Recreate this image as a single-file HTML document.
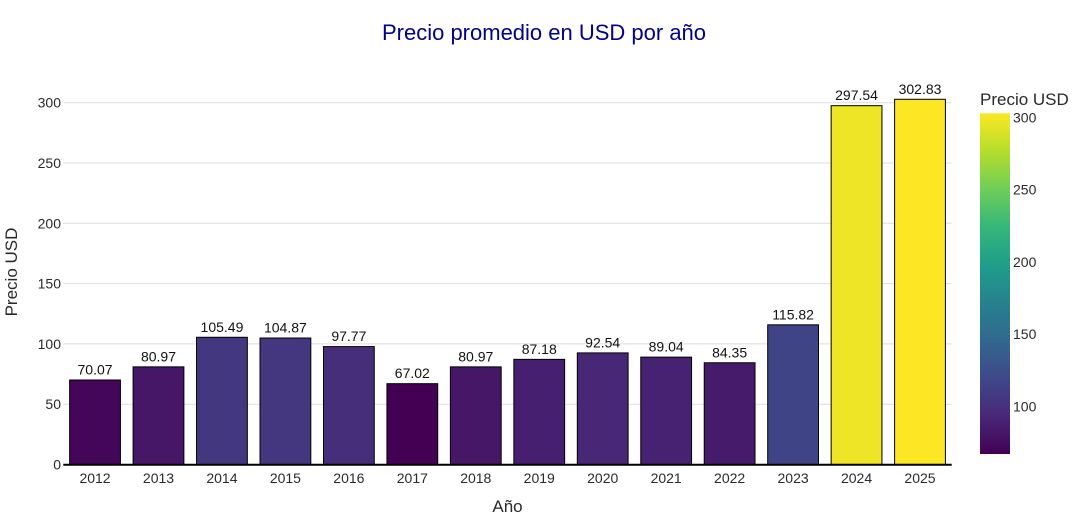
<!DOCTYPE html>
<html>
<head>
<meta charset="utf-8">
<style>
  html, body { margin:0; padding:0; background:#fff; }
  svg { display:block; font-family: "Liberation Sans", Arial, sans-serif; }
</style>
</head>
<body>
<svg width="1090" height="525" viewBox="0 0 1090 525" xmlns="http://www.w3.org/2000/svg">
  <defs>
    <linearGradient id="vir" x1="0" y1="1" x2="0" y2="0">
      <stop offset="0" stop-color="#440154"/>
      <stop offset="0.1111" stop-color="#482878"/>
      <stop offset="0.2222" stop-color="#3e4989"/>
      <stop offset="0.3333" stop-color="#31688e"/>
      <stop offset="0.4444" stop-color="#26828e"/>
      <stop offset="0.5556" stop-color="#1f9e89"/>
      <stop offset="0.6667" stop-color="#35b779"/>
      <stop offset="0.7778" stop-color="#6ece58"/>
      <stop offset="0.8889" stop-color="#b5de2b"/>
      <stop offset="1" stop-color="#fde725"/>
    </linearGradient>
  </defs>
  <rect width="1090" height="525" fill="#fff"/>

  <!-- title -->
  <text x="544" y="40" font-size="22" fill="#00008b" text-anchor="middle">Precio promedio en USD por año</text>

  <!-- gridlines -->
  <g stroke="#dedede" stroke-width="1">
    <line x1="63.3" x2="951.7" y1="404.2" y2="404.2"/>
    <line x1="63.3" x2="951.7" y1="343.9" y2="343.9"/>
    <line x1="63.3" x2="951.7" y1="283.6" y2="283.6"/>
    <line x1="63.3" x2="951.7" y1="223.3" y2="223.3"/>
    <line x1="63.3" x2="951.7" y1="163.0" y2="163.0"/>
    <line x1="63.3" x2="951.7" y1="102.7" y2="102.7"/>
  </g>

  <!-- y tick labels -->
  <g font-size="14" fill="#2a2a2a" text-anchor="end">
    <text x="61" y="469.5">0</text>
    <text x="61" y="409.2">50</text>
    <text x="61" y="348.9">100</text>
    <text x="61" y="288.6">150</text>
    <text x="61" y="228.3">200</text>
    <text x="61" y="168.0">250</text>
    <text x="61" y="107.7">300</text>
  </g>

  <!-- bars -->
  <g stroke="#000" stroke-width="1">
    <rect x="69.63"  y="380.00" width="50.8" height="84.50"  fill="rgb(68,6,88)"/>
    <rect x="133.09" y="366.85" width="50.8" height="97.65"  fill="rgb(70,22,103)"/>
    <rect x="196.55" y="337.28" width="50.8" height="127.22" fill="rgb(67,55,128)"/>
    <rect x="260.01" y="338.03" width="50.8" height="126.47" fill="rgb(68,55,128)"/>
    <rect x="323.47" y="346.59" width="50.8" height="117.91" fill="rgb(70,46,123)"/>
    <rect x="386.93" y="383.67" width="50.8" height="80.83"  fill="rgb(68,1,84)"/>
    <rect x="450.39" y="366.85" width="50.8" height="97.65"  fill="rgb(70,22,103)"/>
    <rect x="513.85" y="359.36" width="50.8" height="105.14" fill="rgb(71,31,112)"/>
    <rect x="577.31" y="352.90" width="50.8" height="111.60" fill="rgb(72,39,119)"/>
    <rect x="640.77" y="357.12" width="50.8" height="107.38" fill="rgb(71,34,114)"/>
    <rect x="704.23" y="362.77" width="50.8" height="101.73" fill="rgb(71,27,108)"/>
    <rect x="767.69" y="324.82" width="50.8" height="139.68" fill="rgb(63,68,135)"/>
    <rect x="831.15" y="105.67" width="50.8" height="358.83" fill="rgb(238,229,38)"/>
    <rect x="894.61" y="99.29"  width="50.8" height="365.21" fill="rgb(253,231,37)"/>
  </g>

  <!-- bar value labels -->
  <g font-size="14" fill="#111" text-anchor="middle">
    <text x="95.03"  y="374.5">70.07</text>
    <text x="158.49" y="361.3">80.97</text>
    <text x="221.95" y="331.8">105.49</text>
    <text x="285.41" y="332.5">104.87</text>
    <text x="348.87" y="341.1">97.77</text>
    <text x="412.33" y="378.2">67.02</text>
    <text x="475.79" y="361.3">80.97</text>
    <text x="539.25" y="353.9">87.18</text>
    <text x="602.71" y="347.4">92.54</text>
    <text x="666.17" y="351.6">89.04</text>
    <text x="729.63" y="357.3">84.35</text>
    <text x="793.09" y="319.3">115.82</text>
    <text x="856.55" y="100.2">297.54</text>
    <text x="920.01" y="93.8">302.83</text>
  </g>

  <!-- x axis line -->
  <line x1="63.3" x2="951.7" y1="464.7" y2="464.7" stroke="#000" stroke-width="2"/>

  <!-- x tick labels -->
  <g font-size="14" fill="#2a2a2a" text-anchor="middle">
    <text x="95.03"  y="483">2012</text>
    <text x="158.49" y="483">2013</text>
    <text x="221.95" y="483">2014</text>
    <text x="285.41" y="483">2015</text>
    <text x="348.87" y="483">2016</text>
    <text x="412.33" y="483">2017</text>
    <text x="475.79" y="483">2018</text>
    <text x="539.25" y="483">2019</text>
    <text x="602.71" y="483">2020</text>
    <text x="666.17" y="483">2021</text>
    <text x="729.63" y="483">2022</text>
    <text x="793.09" y="483">2023</text>
    <text x="856.55" y="483">2024</text>
    <text x="920.01" y="483">2025</text>
  </g>

  <!-- axis titles -->
  <text x="507.5" y="512" font-size="17" fill="#2a2a2a" text-anchor="middle">Año</text>
  <text transform="translate(17,272) rotate(-90)" font-size="17" fill="#2a2a2a" text-anchor="middle">Precio USD</text>

  <!-- colorbar -->
  <text x="980" y="105" font-size="17" fill="#2a2a2a">Precio USD</text>
  <rect x="980" y="113.3" width="30" height="340.7" fill="url(#vir)"/>
  <g font-size="14" fill="#2a2a2a">
    <text x="1013" y="122.4">300</text>
    <text x="1013" y="194.6">250</text>
    <text x="1013" y="266.9">200</text>
    <text x="1013" y="339.1">150</text>
    <text x="1013" y="411.3">100</text>
  </g>
</svg>
</body>
</html>
